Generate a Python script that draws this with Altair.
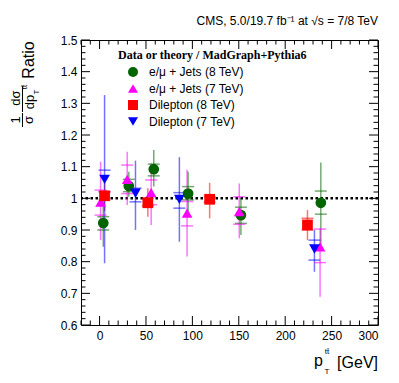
import altair as alt
import pandas as pd

# ---------------- data ----------------
series = ["e/μ + Jets (8 TeV)", "e/μ + Jets (7 TeV)", "Dilepton (8 TeV)", "Dilepton (7 TeV)"]
colors = ["#006400", "#ff00ff", "#ff0000", "#0000ff"]
shapes = ["circle", "triangle-up", "square", "triangle-down"]

lj8_x = [4.0, 31.5, 58.4, 95.4, 152.3, 238.4]
lj8_y = [0.922, 1.039, 1.092, 1.015, 0.947, 0.986]
lj8_tlo = [0.847, 1.005, 1.037, 0.950, 0.884, 0.843]
lj8_thi = [1.000, 1.084, 1.153, 1.084, 1.000, 1.113]
lj8_slo = [0.900, 1.021, 1.071, 0.995, 0.921, 0.950]
lj8_shi = [0.942, 1.060, 1.108, 1.037, 0.972, 1.023]

lj7_x = [1.1, 29.8, 55.6, 94.3, 150.5, 237.6]
lj7_y = [0.988, 1.060, 1.018, 0.953, 0.958, 0.847]
lj7_tlo = [0.868, 0.979, 0.916, 0.816, 0.874, 0.689]
lj7_thi = [1.116, 1.147, 1.111, 1.090, 1.047, 0.905]
lj7_slo = [0.947, 1.015, 0.980, 0.913, 0.918, 0.797]
lj7_shi = [1.026, 1.105, 1.058, 0.990, 1.005, 0.903]

dl8_x = [5.4, 52.0, 118.6, 224.0]
dl8_y = [1.008, 0.986, 0.997, 0.916]
dl8_tlo = [0.960, 0.942, 0.937, 0.868]
dl8_thi = [1.050, 1.032, 1.049, 0.963]
dl8_slo = [0.995, 0.976, 0.988, 0.900]
dl8_shi = [1.020, 1.000, 1.006, 0.937]

dl7_x = [5.4, 38.7, 86.0, 231.5]
dl7_y = [1.060, 1.016, 0.997, 0.840]
dl7_tlo = [0.795, 0.900, 0.863, 0.768]
dl7_thi = [1.326, 1.119, 1.130, 0.900]
dl7_slo = [1.021, 0.989, 0.969, 0.805]
dl7_shi = [1.089, 1.032, 1.018, 0.868]

x_labels = [0, 50, 100, 150, 200, 250, 300]
y_labels = [0.6, 0.7, 0.8, 0.9, 1.0, 1.1, 1.2, 1.3, 1.4, 1.5]
x_minor = [v for v in range(-20, 301, 10) if v % 50 != 0]
y_minor = [round(0.6 + 0.02 * i, 2) for i in range(46) if i % 5 != 0]

# ---------------- build table ----------------
rows = []
for name, xs, ys, tl, th, sl, sh in [
    (series[0], lj8_x, lj8_y, lj8_tlo, lj8_thi, lj8_slo, lj8_shi),
    (series[1], lj7_x, lj7_y, lj7_tlo, lj7_thi, lj7_slo, lj7_shi),
    (series[2], dl8_x, dl8_y, dl8_tlo, dl8_thi, dl8_slo, dl8_shi),
    (series[3], dl7_x, dl7_y, dl7_tlo, dl7_thi, dl7_slo, dl7_shi),
]:
    for i in range(len(xs)):
        rows.append(dict(series=name, x=xs[i], y=ys[i], tlo=tl[i], thi=th[i], slo=sl[i], shi=sh[i]))
df = pd.DataFrame(rows)

W, H = 297, 285
FONT = "Liberation Sans"

x_axis = alt.Axis(values=x_labels, ticks=False, domain=False, grid=False, title=None,
                  labelFont=FONT, labelFontSize=12, labelColor="black", labelPadding=5)
y_axis = alt.Axis(values=y_labels, ticks=False, domain=False, grid=False, title=None,
                  labelFont=FONT, labelFontSize=12, labelColor="black", labelPadding=4, format="~g")
xs_ = alt.Scale(domain=[-20, 300], nice=False, zero=False)
ys_ = alt.Scale(domain=[0.6, 1.5], nice=False, zero=False)
col = alt.Color("series:N", scale=alt.Scale(domain=series, range=colors), legend=None)
shp = alt.Shape("series:N", scale=alt.Scale(domain=series, range=shapes), legend=None)

base = alt.Chart(df)

unity = alt.Chart(pd.DataFrame({"y": [1.0]})).mark_rule(
    color="black", strokeWidth=2.5, strokeDash=[2.5, 2.5]
).encode(y=alt.Y("y:Q", scale=ys_, axis=y_axis))

tot = base.mark_rule(strokeWidth=1.5, opacity=0.55).encode(
    x=alt.X("x:Q", scale=xs_, axis=x_axis),
    y=alt.Y("tlo:Q", scale=ys_, axis=y_axis), y2="thi:Q", color=col)
cap_lo = base.mark_tick(orient="horizontal", size=12, thickness=1.5, opacity=0.55).encode(
    x=alt.X("x:Q", scale=xs_, axis=x_axis), y=alt.Y("slo:Q", scale=ys_, axis=y_axis), color=col)
cap_hi = base.mark_tick(orient="horizontal", size=12, thickness=1.5, opacity=0.55).encode(
    x=alt.X("x:Q", scale=xs_, axis=x_axis), y=alt.Y("shi:Q", scale=ys_, axis=y_axis), color=col)
pts = base.mark_point(filled=True, opacity=1, size=115).encode(
    x=alt.X("x:Q", scale=xs_, axis=x_axis), y=alt.Y("y:Q", scale=ys_, axis=y_axis),
    color=col, shape=shp)

# ---------------- ROOT-style inner ticks ----------------
def xticks(vals, L):
    d = alt.Chart(pd.DataFrame({"x": vals}))
    b = d.mark_rule(color="black", strokeWidth=1).encode(
        x=alt.X("x:Q", scale=xs_, axis=x_axis), y=alt.value(H), y2=alt.value(H - L))
    t = d.mark_rule(color="black", strokeWidth=1).encode(
        x=alt.X("x:Q", scale=xs_, axis=x_axis), y=alt.value(0), y2=alt.value(L))
    return [b, t]

def yticks(vals, L):
    d = alt.Chart(pd.DataFrame({"y": vals}))
    l = d.mark_rule(color="black", strokeWidth=1).encode(
        y=alt.Y("y:Q", scale=ys_, axis=y_axis), x=alt.value(0), x2=alt.value(L))
    r = d.mark_rule(color="black", strokeWidth=1).encode(
        y=alt.Y("y:Q", scale=ys_, axis=y_axis), x=alt.value(W), x2=alt.value(W - L))
    return [l, r]

tick_layers = xticks(x_labels, 9) + xticks(x_minor, 4.5) + yticks(y_labels, 9) + yticks(y_minor, 4.5)

# ---------------- texts ----------------
one = pd.DataFrame({"a": [0]})

def txt(s, x, y, size=12, align="left", baseline="alphabetic", angle=0, font=FONT, weight="normal"):
    return alt.Chart(one).mark_text(text=s, align=align, baseline=baseline, angle=angle,
                                    font=font, fontSize=size, fontWeight=weight, color="black"
                                    ).encode(x=alt.value(x), y=alt.value(y))

def vbar(x, y1, y2):
    return alt.Chart(one).mark_rule(color="black", strokeWidth=1).encode(
        x=alt.value(x), y=alt.value(y1), y2=alt.value(y2))

texts = [
    txt("CMS, 5.0/19.7 fb⁻¹ at √s = 7/8 TeV", W, -15, size=12, align="right"),
    # x title
    txt("[GeV]", W, 328, size=16, align="right"),
    txt("p", 242, 326, size=16, align="right"),
    txt("tt̄", 246, 314, size=8, align="center"),
    txt("T", 246, 334, size=8, align="center"),
    # y title (rotated)
    txt("Ratio", -52, 20, size=16, align="center", baseline="middle", angle=270),
    txt("1", -65, 80, size=13, align="center", baseline="middle", angle=270),
    txt("σ", -52, 80, size=13, align="center", baseline="middle", angle=270),
    txt("dσ", -65, 58, size=13, align="center", baseline="middle", angle=270),
    txt("dp", -51, 62, size=13, align="center", baseline="middle", angle=270),
    txt("tt̄", -56, 47, size=8, align="center", baseline="middle", angle=270),
    txt("T", -44, 52, size=8, align="center", baseline="middle", angle=270),
    vbar(-58.5, 73, 87),
    vbar(-58.5, 46, 72),
    # legend
    txt("Data or theory / MadGraph+Pythia6", 37, 19, size=12, font="Liberation Serif", weight="bold"),
]

leg_y = [32, 48.5, 65, 81.5]
leg_df = pd.DataFrame({"series": series, "ly": leg_y, "c": colors, "s": shapes})
leg_pts = alt.Chart(leg_df).mark_point(filled=True, opacity=1, size=100).encode(
    x=alt.value(52), y=alt.Y("ly:Q", scale=None), color=alt.Color("c:N", scale=None),
    shape=alt.Shape("s:N", scale=None))
leg_txt = alt.Chart(leg_df).mark_text(align="left", baseline="middle", font=FONT, fontSize=12,
                                      color="black").encode(
    x=alt.value(68), y=alt.Y("ly:Q", scale=None), text="series:N")

chart = alt.layer(
    unity, tot, cap_lo, cap_hi, pts, *tick_layers, *texts, leg_pts, leg_txt
).properties(
    width=W, height=H,
    padding={"left": 73, "top": 32, "right": 13, "bottom": 50},
    autosize=alt.AutoSizeParams(type="none"),
).configure_view(stroke="black", strokeWidth=1)

chart.save("out.html", embed_options={"renderer": "svg", "actions": False})
